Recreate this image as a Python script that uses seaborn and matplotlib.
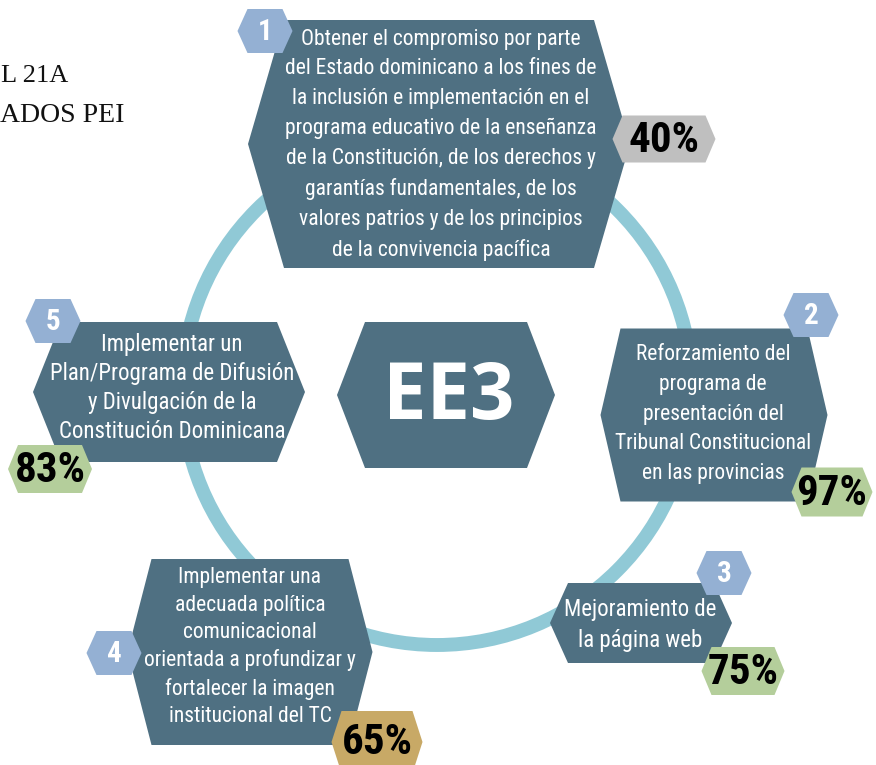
import matplotlib
matplotlib.use("Agg")
import matplotlib.pyplot as plt
from matplotlib import font_manager
from matplotlib.patches import Polygon, Circle
import seaborn as sns

sns.set_theme(style="white")

# --- data -------------------------------------------------------------
numeros = ["1", "2", "3", "4", "5"]
objetivos = [
    "Obtener el compromiso por parte\ndel Estado dominicano a los fines de\n"
    "la inclusión e implementación en el\nprograma educativo de la enseñanza\n"
    "de la Constitución, de los derechos y\ngarantías fundamentales, de los\n"
    "valores patrios y de los principios\nde la convivencia pacífica",
    "Reforzamiento del\nprograma de\npresentación del\nTribunal Constitucional\nen las provincias",
    "Mejoramiento de\nla página web",
    "Implementar una\nadecuada política\ncomunicacional\norientada a profundizar y\n"
    "fortalecer la imagen\ninstitucional del TC",
    "Implementar un\nPlan/Programa de Difusión\ny Divulgación de la\nConstitución Dominicana",
]
avance = [40, 97, 75, 65, 83]
centro = "EE3"
titulo = ["L 21A", "ADOS PEI"]

# --- layout (pixels, y down) -------------------------------------------
# box: cx, cy, w, h, inset, text cx, text cy, fontsize, linespacing
cajas = [
    (439, 144, 382, 248, 36, 441, 145, 15.5, 1.55),
    (714, 415, 227, 173, 20, 713, 414, 15.5, 1.55),
    (641, 623, 182, 80, 18, 640, 625, 16.5, 1.45),
    (250, 652, 245, 186, 24, 250, 647, 15.5, 1.38),
    (169, 392, 272, 140, 28, 172, 388, 16.5, 1.32),
]
insignias = [(265, 31), (811, 315), (724, 573), (114, 653), (53, 321)]
porcentajes = [(664, 139, 103, 47), (832, 492, 81, 49), (743, 671, 83, 48),
               (377, 742, 91, 62), (50, 469, 84, 48)]

azul = "#4f7082"
celeste = "#94b0d3"
anillo = "#90c9d6"
def color_avance(v):
    if v < 50:
        return "#bfbfbf"
    if v < 70:
        return "#c8a966"
    return "#b4ce9b"

fonts = font_manager.fontManager.ttflist
names = {f.name for f in fonts}
bold_names = {f.name for f in fonts if f.weight in (700, "bold")}
narrow = next((n for n in ["Liberation Sans Narrow", "Roboto Condensed"] if n in names), "DejaVu Sans")
heavy = next((n for n in ["Open Sans", "Lato", "Roboto", "Noto Sans"] if n in bold_names), "DejaVu Sans")


def hexagon(cx, cy, w, h, inset):
    return [(cx - w / 2, cy), (cx - w / 2 + inset, cy - h / 2), (cx + w / 2 - inset, cy - h / 2),
            (cx + w / 2, cy), (cx + w / 2 - inset, cy + h / 2), (cx - w / 2 + inset, cy + h / 2)]


fig = plt.figure(figsize=(8.76, 7.65), dpi=100)
ax = fig.add_axes([0, 0, 1, 1])
ax.set_xlim(0, 876)
ax.set_ylim(765, 0)
ax.axis("off")

ax.add_patch(Circle((437, 390), 255, fill=False, lw=10, ec=anillo, zorder=1))

# centre
ax.add_patch(Polygon(hexagon(446, 395, 218, 146, 28), fc=azul, ec="none", zorder=2))
ax.text(449, 398, centro, color="white", fontsize=56, fontweight="bold", family=heavy,
        ha="center", va="center", zorder=3)

for i, (num, txt, val) in enumerate(zip(numeros, objetivos, avance)):
    cx, cy, w, h, ins, tx, ty, fs, ls = cajas[i]
    ax.add_patch(Polygon(hexagon(cx, cy, w, h, ins), fc=azul, ec="none", zorder=2))
    ax.text(tx, ty, txt, color="white", fontsize=fs, family=narrow, ha="center", va="center",
            multialignment="center", linespacing=ls, zorder=3)
    bx, by = insignias[i]
    ax.add_patch(Polygon(hexagon(bx, by, 55, 44, 10), fc=celeste, ec="none", zorder=4))
    ax.text(bx, by + 1, num, color="white", fontsize=21, fontweight="bold", family=narrow,
            ha="center", va="center", zorder=5)
    px, py, pw, ph = porcentajes[i]
    ax.add_patch(Polygon(hexagon(px, py, pw, ph, 10), fc=color_avance(val), ec="none", zorder=4))
    ax.text(px, py + 1, f"{val}%", color="black", fontsize=31, fontweight="bold", family=narrow,
            ha="center", va="center", zorder=5)

ax.text(1, 76, titulo[0], fontsize=19, family="Liberation Serif", color="#111111", va="center")
ax.text(0, 115, titulo[1], fontsize=20, family="Liberation Serif", color="#111111", va="center")

fig.savefig("out.png", dpi=100)
